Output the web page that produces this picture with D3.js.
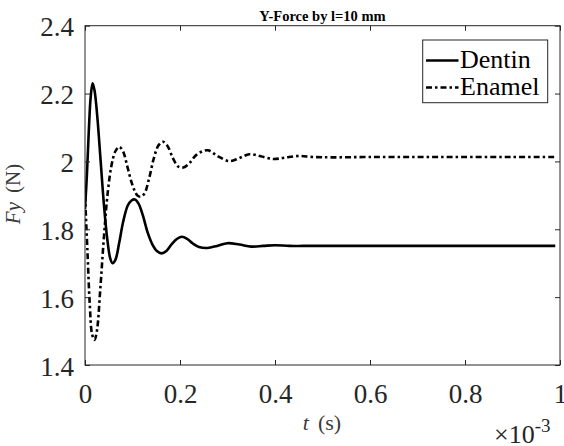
<!DOCTYPE html>
<html><head><meta charset="utf-8">
<script src="https://cdn.jsdelivr.net/npm/d3@7"></script>
<style>body{margin:0;background:#fff}svg{display:block}</style>
</head><body>
<svg id="c" width="564" height="446"></svg>
<script>
const title = "Y-Force by l=10 mm";
const xTicks = [0, 0.2, 0.4, 0.6, 0.8, 1];
const yTicks = [1.4, 1.6, 1.8, 2, 2.2, 2.4];
const seriesNames = ["Dentin", "Enamel"];
const tDentin = [0,0.004,0.008,0.012,0.016,0.020,0.026,0.033,0.040,0.047,0.053,0.058,0.064,0.072,0.080,0.090,0.098,0.105,0.113,0.122,0.132,0.142,0.152,0.161,0.172,0.183,0.194,0.204,0.215,0.227,0.240,0.258,0.278,0.300,0.325,0.350,0.375,0.400,0.43,0.46,0.5,0.6,0.7,0.8,0.9,0.99];
const fDentin = [1.86,1.96,2.09,2.19,2.23,2.21,2.13,2.00,1.87,1.77,1.715,1.70,1.71,1.76,1.82,1.87,1.885,1.888,1.875,1.84,1.79,1.755,1.735,1.729,1.737,1.757,1.772,1.778,1.772,1.758,1.748,1.745,1.751,1.759,1.755,1.749,1.751,1.753,1.751,1.751,1.751,1.751,1.751,1.751,1.751,1.751];
const tEnamel = [0,0.005,0.010,0.015,0.020,0.025,0.032,0.040,0.048,0.056,0.064,0.072,0.080,0.090,0.100,0.110,0.117,0.125,0.135,0.145,0.155,0.164,0.174,0.185,0.196,0.207,0.220,0.235,0.258,0.280,0.304,0.325,0.346,0.370,0.396,0.42,0.449,0.48,0.52,0.6,0.7,0.8,0.9,0.99];
const fEnamel = [1.90,1.74,1.58,1.49,1.474,1.50,1.62,1.78,1.91,1.99,2.03,2.043,2.03,1.98,1.93,1.90,1.896,1.905,1.95,2.01,2.048,2.058,2.045,2.01,1.985,1.982,1.995,2.02,2.033,2.015,2.001,2.010,2.021,2.015,2.007,2.011,2.016,2.013,2.012,2.013,2.013,2.013,2.013,2.013];

const svg = d3.select("#c");
const L = 85, R = 560, T = 25.7, B = 365;
const x = d3.scaleLinear().domain([0, 1]).range([L, R]);
const y = d3.scaleLinear().domain([1.4, 2.4]).range([B, T]);
const axisColor = "#262626";
const font = "'Liberation Serif', 'Times New Roman', serif";
const dashPat = "6,3,2.5,3";

// lines
const line = d3.line().x(d => x(d[0])).y(d => y(d[1])).curve(d3.curveCatmullRom.alpha(0.5));
svg.append("clipPath").attr("id","cp").append("rect").attr("x",L).attr("y",T).attr("width",R-L).attr("height",B-T);
const g = svg.append("g").attr("clip-path","url(#cp)");
g.append("path").datum(tDentin.map((t,i)=>[t,fDentin[i]]))
  .attr("d", line).attr("fill","none").attr("stroke","#000").attr("stroke-width",2.6).attr("stroke-linejoin","round");
g.append("path").datum(tEnamel.map((t,i)=>[t,fEnamel[i]]))
  .attr("d", line).attr("fill","none").attr("stroke","#000").attr("stroke-width",2.6)
  .attr("stroke-dasharray",dashPat);

// axes box
svg.append("rect").attr("x",L).attr("y",T).attr("width",R-L).attr("height",B-T)
  .attr("fill","none").attr("stroke",axisColor).attr("stroke-width",1);
const xb = svg.append("g").attr("transform",`translate(0,${B})`)
  .call(d3.axisBottom(x).tickValues(xTicks).tickSize(-5).tickFormat(d3.format("~g")));
const xt = svg.append("g").attr("transform",`translate(0,${T})`)
  .call(d3.axisTop(x).tickValues(xTicks).tickSize(-5).tickFormat(""));
const yl = svg.append("g").attr("transform",`translate(${L},0)`)
  .call(d3.axisLeft(y).tickValues(yTicks).tickSize(-5).tickFormat(d3.format("~g")));
const yr = svg.append("g").attr("transform",`translate(${R},0)`)
  .call(d3.axisRight(y).tickValues(yTicks).tickSize(-5).tickFormat(""));
[xb,xt,yl,yr].forEach(a=>{
  a.attr("font-family", null);
  a.select(".domain").remove();
  a.selectAll("line").attr("stroke",axisColor).attr("stroke-width",1);
  a.selectAll("text").attr("fill",axisColor).style("font-family",font).style("font-size","27px");
});
xb.selectAll("text").attr("y",38).attr("dy",null);
yl.selectAll("text").attr("x",-11).attr("dy",null).attr("y",10);

// title
svg.append("text").attr("x",(L+R)/2).attr("y",20.5).attr("text-anchor","middle")
  .style("font-family",font).style("font-weight","bold").style("font-size","14.5px").attr("fill","#000").text(title);

// axis labels
const xlab = svg.append("text").attr("x",322).attr("y",430).attr("text-anchor","middle")
  .style("font-family",font).style("font-size","22px").attr("fill","#3a3a3a");
xlab.append("tspan").style("font-style","italic").text("t");
xlab.append("tspan").attr("dx","9").text("(s)");
const ylab = svg.append("text").attr("transform","translate(20,194) rotate(-90)").attr("text-anchor","middle")
  .style("font-family",font).style("font-size","21px").attr("fill","#3a3a3a");
ylab.append("tspan").style("font-style","italic").text("Fy");
ylab.append("tspan").attr("dx","9").text("(N)");

// exponent
const ex = svg.append("text").attr("x",494).attr("y",443).style("font-family",font).style("font-size","26px").attr("fill",axisColor);
ex.append("tspan").text("×10");
ex.append("tspan").attr("dy","-11").style("font-size","19px").text("-3");

// legend
const lg = svg.append("g");
lg.append("rect").attr("x",422.7).attr("y",40).attr("width",125).attr("height",62.7)
  .attr("fill","#fff").attr("stroke",axisColor).attr("stroke-width",1);
const dashes = [null, dashPat];
seriesNames.forEach((n,i)=>{
  const yy = 60.5 + i*27;
  lg.append("line").attr("x1",426).attr("x2",458.5).attr("y1",yy).attr("y2",yy)
    .attr("stroke","#000").attr("stroke-width",2.6).attr("stroke-dasharray",dashes[i]);
  lg.append("text").attr("x",460).attr("y",yy+7)
    .style("font-family",font).style("font-size","26px").attr("fill","#000").text(n);
});
</script>
</body></html>
